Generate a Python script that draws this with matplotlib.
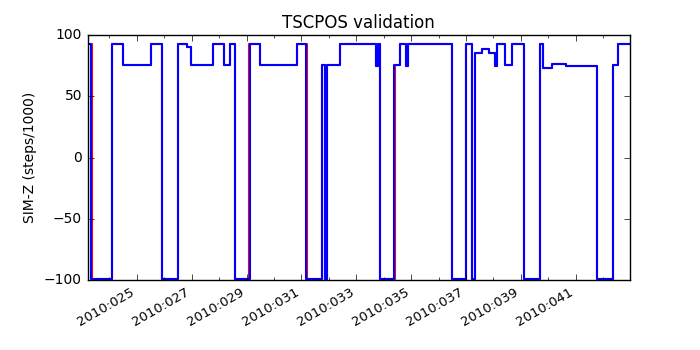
import matplotlib
matplotlib.use('Agg')
import matplotlib.pyplot as plt

plt.style.use('classic')

# Times in day-of-year 2010 (fractional), values in steps/1000
blue_t = [23.20, 23.332, 24.084, 24.485, 25.518, 25.909, 26.493, 26.821, 26.956,
          27.770, 28.161, 28.405, 28.562, 29.109, 29.474, 30.850, 31.175, 31.759,
          31.843, 31.931, 32.394, 33.734, 33.781, 33.854, 34.376, 34.584, 34.803,
          34.876, 36.507, 37.000, 37.201, 37.321, 37.588, 37.832, 38.051, 38.135,
          38.416, 38.661, 39.109, 39.693, 39.792, 40.120, 40.642, 41.763, 42.343,
          42.526, 42.98]
blue_v = [93, -99, 93, 75.5, 93, -99, 93, 90, 75.5,
          93, 75.5, 93, -99, 93, 75.5, 93, -99, 75.5,
          -99, 75.5, 93, 75, 93, -99, 75.5, 93, 75,
          93, -99, 93, -99, 85, 88.5, 85.5, 75, 93,
          75.5, 93, -99, 93, 72.7, 76, 74.8, -99, 75.5,
          93, 93]

red_t = [23.20, 23.350, 24.084, 24.485, 25.518, 25.909, 26.493, 26.821, 26.956,
         27.770, 28.161, 28.405, 28.562, 29.075, 29.474, 30.850, 31.220, 31.759,
         31.843, 31.931, 32.394, 33.734, 33.781, 33.854, 34.410, 34.584, 34.803,
         34.876, 36.507, 37.000, 37.201, 37.345, 37.588, 37.832, 38.051, 38.135,
         38.416, 38.661, 39.109, 39.693, 39.792, 40.120, 40.642, 41.790, 42.343,
         42.526, 42.98]
red_v = [93, -99, 93, 75.5, 93, -99, 93, 90, 75.5,
         93, 75.5, 93, -99, 93, 75.5, 93, -99, 75.5,
         -99, 75.5, 93, 75, 93, -99, 75.5, 93, 75,
         93, -99, 93, -99, 85, 88.5, 85.5, 75, 93,
         75.5, 93, -99, 93, 72.7, 76, 74.8, -99, 75.5,
         93, 93]

major_days = [25, 27, 29, 31, 33, 35, 37, 39, 41]
major_labels = ['2010:025', '2010:027', '2010:029', '2010:031', '2010:033',
                '2010:035', '2010:037', '2010:039', '2010:041']
minor_days = [24, 26, 28, 30, 32, 34, 36, 38, 40, 42]

fig = plt.figure(figsize=(7, 3.5), dpi=100)
ax = fig.add_subplot(111)
ax.plot(red_t, red_v, color='r', lw=1.5, drawstyle='steps-post')
ax.plot(blue_t, blue_v, color='b', lw=1.5, drawstyle='steps-post')
ax.set_xlim(23.2, 42.98)
ax.set_ylim(-100, 100)
ax.set_yticks([-100, -50, 0, 50, 100])
ax.set_xticks(major_days)
ax.set_xticklabels(major_labels)
ax.set_xticks(minor_days, minor=True)
ax.tick_params(axis='y', labelsize=10)
ax.tick_params(axis='x', labelsize=9.5)
ax.set_title('TSCPOS validation', fontsize=12)
ax.set_ylabel('SIM-Z (steps/1000)', fontsize=10)
for lbl in ax.get_xticklabels():
    lbl.set_rotation(30)
    lbl.set_ha('right')
fig.subplots_adjust(left=0.125, right=0.9, top=0.9, bottom=0.2)
fig.savefig('out.png', dpi=100)
